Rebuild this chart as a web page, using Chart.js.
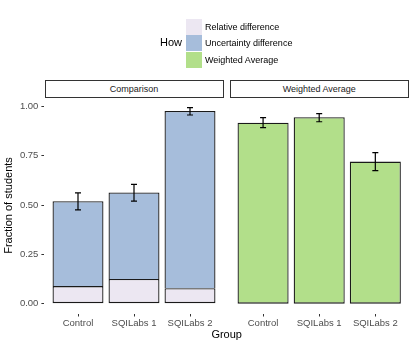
<!DOCTYPE html>
<html>
<head>
<meta charset="utf-8">
<script src="https://cdn.jsdelivr.net/npm/chart.js@4.4.0/dist/chart.umd.min.js"></script>
<style>
  body { margin: 0; width: 415px; height: 346px; background: #fff; position: relative; overflow: hidden;
         font-family: "Liberation Sans", Arial, sans-serif; }
  canvas { position: absolute; top: 0; }
  .strip { position: absolute; top: 79.5px; height: 18px; box-sizing: border-box; border: 1px solid #333;
           background: #fff; font-size: 9px; color: #1a1a1a; text-align: center; line-height: 16px; }
  .key { position: absolute; left: 186px; width: 16px; height: 16px; }
  .klab { position: absolute; left: 205px; font-size: 9px; line-height: 16px; color: #000; }
  .title { position: absolute; font-size: 11px; color: #000; }
</style>
</head>
<body>
<canvas id="comp" width="224" height="346" style="left:0"></canvas>
<canvas id="wavg" width="191" height="346" style="left:224px"></canvas>

<div class="strip" style="left:44.5px;width:179px">Comparison</div>
<div class="strip" style="left:229.5px;width:179.5px">Weighted Average</div>

<div class="title" style="left:160px;top:36px">How</div>
<div class="key" style="top:18.5px;background:#ece7f2"></div>
<div class="key" style="top:35.3px;background:#a6bddb"></div>
<div class="key" style="top:52px;background:#b2df8a"></div>
<div class="klab" style="top:18.5px">Relative difference</div>
<div class="klab" style="top:35.3px">Uncertainty difference</div>
<div class="klab" style="top:52px">Weighted Average</div>

<div class="title" style="left:44.4px;width:364.6px;text-align:center;top:328px">Group</div>

<script>
// data
const groups = ["Control", "SQILabs 1", "SQILabs 2"];
const yTicks = [0, 0.25, 0.5, 0.75, 1];

const relDiff = [0.089, 0.125, 0.078];
const uncDiff = [0.430, 0.438, 0.899];
const compLow = [0.475, 0.520, 0.956];
const compHigh = [0.561, 0.605, 0.993];

const wavg = [0.917, 0.945, 0.720];
const wavgLow = [0.892, 0.922, 0.674];
const wavgHigh = [0.943, 0.963, 0.765];

const colRel = "#ece7f2";
const colUnc = "#a6bddb";
const colAvg = "#b2df8a";

const errorBars = {
  id: "errorBars",
  afterDatasetsDraw(chart, args, opts) {
    const { ctx, scales: { x, y } } = chart;
    ctx.save();
    ctx.strokeStyle = "#000";
    ctx.lineWidth = 1.2;
    opts.lows.forEach((lo, i) => {
      const px = x.getPixelForValue(i + 1);
      const y1 = y.getPixelForValue(lo);
      const y2 = y.getPixelForValue(opts.highs[i]);
      ctx.beginPath();
      ctx.moveTo(px, y1); ctx.lineTo(px, y2);
      ctx.moveTo(px - 3, y1); ctx.lineTo(px + 3, y1);
      ctx.moveTo(px - 3, y2); ctx.lineTo(px + 3, y2);
      ctx.stroke();
    });
    ctx.restore();
  },
};

const pts = (vals) => vals.map((v, i) => ({ x: i + 1, y: v }));

function xAxis() {
  return {
    type: "linear", stacked: true, min: 0.4, max: 3.6, offset: false,
    afterBuildTicks: (s) => { s.ticks = [1, 2, 3].map((v) => ({ value: v })); },
    afterFit: (s) => { s.height = 32.5; },
    ticks: { callback: (v) => groups[v - 1], color: "#4d4d4d", font: { size: 9.5 }, padding: 1, maxRotation: 0, autoSkip: false },
    grid: { offset: false, drawOnChartArea: false, tickLength: 3, tickColor: "#333", tickWidth: 1 },
    border: { display: false },
  };
}

function yAxis(show) {
  return {
    display: show, stacked: true, min: -0.0498, max: 1.0448,
    afterBuildTicks: (s) => { s.ticks = yTicks.map((v) => ({ value: v })); },
    afterFit: (s) => { s.width = show ? 44.4 : 0; },
    ticks: { callback: (v) => v.toFixed(2), color: "#4d4d4d", font: { size: 9.5 }, padding: 3 },
    grid: { drawOnChartArea: false, tickLength: 3, tickColor: "#333", tickWidth: 1 },
    border: { display: false },
    title: { display: true, text: "Fraction of students", color: "#000", font: { size: 11 }, padding: { top: 2, bottom: 0 } },
  };
}

const common = {
  responsive: false,
  animation: false,
  events: [],
  plugins: { legend: { display: false }, tooltip: { enabled: false } },
};

const barStyle = { borderColor: "#1a1a1a", borderWidth: 1.3, barPercentage: 0.91, categoryPercentage: 1 };

new Chart(document.getElementById("comp"), {
  type: "bar",
  data: {
    datasets: [
      { label: "Relative difference", data: pts(relDiff), backgroundColor: colRel, borderSkipped: false, ...barStyle },
      { label: "Uncertainty difference", data: pts(uncDiff), backgroundColor: colUnc, borderSkipped: "bottom", ...barStyle },
    ],
  },
  options: {
    ...common,
    layout: { padding: { top: 97.5, left: 0, right: 0.4, bottom: 0 } },
    scales: { x: xAxis(), y: yAxis(true) },
    plugins: { ...common.plugins, errorBars: { lows: compLow, highs: compHigh } },
  },
  plugins: [errorBars],
});

new Chart(document.getElementById("wavg"), {
  type: "bar",
  data: {
    datasets: [
      { label: "Weighted Average", data: pts(wavg), backgroundColor: colAvg, borderSkipped: false, ...barStyle },
    ],
  },
  options: {
    ...common,
    layout: { padding: { top: 97.5, left: 5.4, right: 6, bottom: 0 } },
    scales: { x: xAxis(), y: yAxis(false) },
    plugins: { ...common.plugins, errorBars: { lows: wavgLow, highs: wavgHigh } },
  },
  plugins: [errorBars],
});
</script>
</body>
</html>
